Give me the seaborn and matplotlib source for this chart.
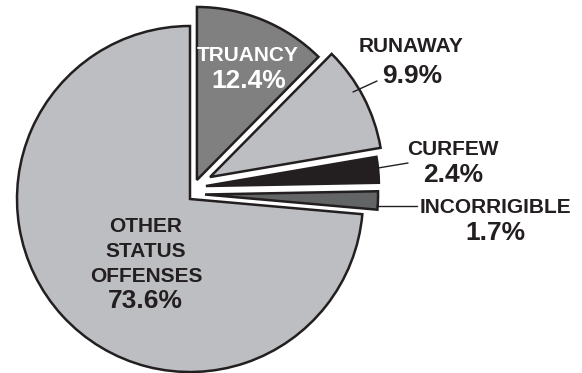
import matplotlib
matplotlib.use("Agg")
import matplotlib.pyplot as plt
import seaborn as sns

# data (clockwise from 12 o'clock)
categories = ["TRUANCY", "RUNAWAY", "CURFEW", "INCORRIGIBLE", "OTHER\nSTATUS\nOFFENSES"]
shares = [12.4, 9.9, 2.4, 1.7, 73.6]
pct_labels = ["12.4%", "9.9%", "2.4%", "1.7%", "73.6%"]

# styles
slice_colors = ["#808080", "#bdbec1", "#231f20", "#636466", "#bdbec1"]
text_colors = ["white", "#231f20", "#231f20", "#231f20", "#231f20"]
# how far each slice is pulled out of the center, in pie radii (x, y)
slice_shift = [(0.040, 0.110), (0.116, 0.127), (0.092, 0.075), (0.087, 0.026), (0.0, 0.0)]
ink = "#231f20"

sns.set_theme(style="white")
plt.rcParams["font.family"] = ["Liberation Sans", "DejaVu Sans"]

W, H = 582, 373
R = 173.0          # pie radius in pixels
CX, CY = 190, 199  # pie center in pixels


def px(x, y):
    # pixel position on the picture -> data units of the pie
    return (x - CX) / R, (CY - y) / R


fig = plt.figure(figsize=(W / 100, H / 100), dpi=100)
ax = fig.add_axes([0, 0, 1, 1])
wedges, _ = ax.pie(shares, colors=slice_colors, startangle=90, counterclock=False,
                   radius=1.0,
                   wedgeprops=dict(edgecolor=ink, linewidth=1.8, joinstyle="miter"))
for w, s in zip(wedges, slice_shift):
    w.set_center(s)

x0, y0 = px(0, 0)
x1, y1 = px(W, H)
ax.set_xlim(x0, x1)
ax.set_ylim(y1, y0)
ax.set_aspect("equal")
ax.axis("off")

# label anchors (pixel centers / baselines of the lines)
label_pos = [(248, 61), (411, 52), (453, 155), (495, 213), (146, 232)]
pct_pos = [(249, 88), (412, 83), (453, 182), (495, 240), (145, 308)]

for i in range(len(categories)):
    lines = categories[i].split("\n")
    lx, ly = label_pos[i]
    for k, line in enumerate(lines):
        ax.text(*px(lx, ly + 25 * k), line, ha="center", va="baseline",
                fontsize=15, fontweight="bold", color=text_colors[i])
    ax.text(*px(*pct_pos[i]), pct_labels[i], ha="center", va="baseline",
            fontsize=19, fontweight="bold", color=text_colors[i])

# leader lines
leaders = [((353, 92), (377, 81)), ((378, 168), (408, 163)), ((376, 206), (417, 206))]
for a, b in leaders:
    (xa, ya), (xb, yb) = px(*a), px(*b)
    ax.plot([xa, xb], [ya, yb], color=ink, lw=1.0)

fig.savefig("out.png", dpi=100)
